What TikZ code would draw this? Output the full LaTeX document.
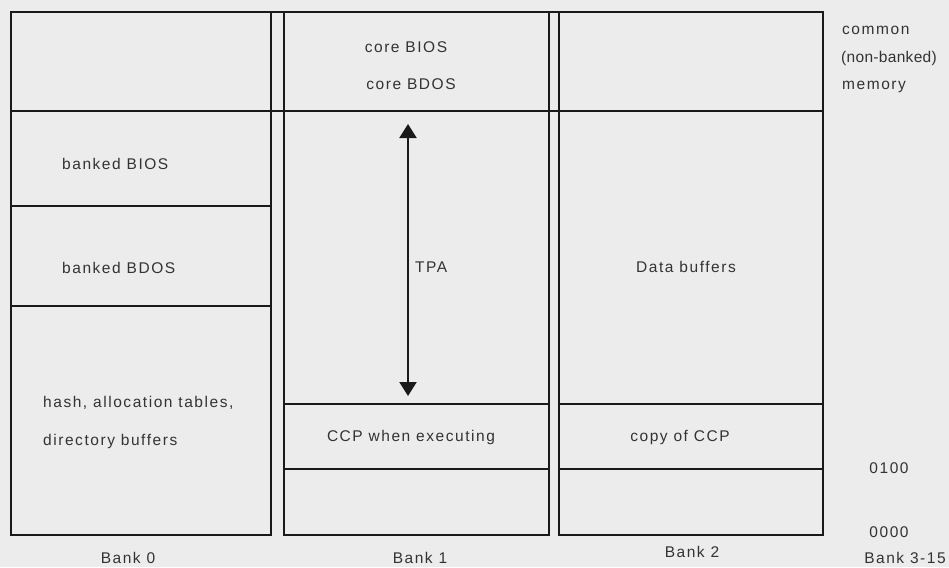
\documentclass[tikz,border=0pt]{standalone}
\usepackage{fontspec}
\setmainfont{Liberation Sans}[LetterSpace=10]
\usetikzlibrary{arrows.meta}
\definecolor{paper}{HTML}{ECECEC}
\definecolor{ink}{HTML}{1A1A1A}
\definecolor{txt}{HTML}{333333}
\tikzset{
  box/.style={draw=ink, line width=2.4pt},
  lbl/.style={text=txt, font=\fontsize{15.5}{18}\selectfont, inner sep=0pt},
  tpaarrow/.style={draw=ink, line width=2.2pt, {Triangle[width=17pt,length=14pt]}-{Triangle[width=17pt,length=14pt]}},
}
\begin{document}
\begin{tikzpicture}[x=1pt,y=-1pt]
\fill[paper] (0,0) rectangle (949,567);
\useasboundingbox (0,0) rectangle (949,567);
% Bank 0
\draw[box] (11,12) rectangle (271,535);
\draw[box] (11,111) -- (271,111);
\draw[box] (11,206) -- (271,206);
\draw[box] (11,306) -- (271,306);
% Bank 1
\draw[box] (284,12) rectangle (549,535);
\draw[box] (284,111) -- (549,111);
\draw[box] (284,404) -- (549,404);
\draw[box] (284,469) -- (549,469);
% Bank 2
\draw[box] (559,12) rectangle (823,535);
\draw[box] (559,111) -- (823,111);
\draw[box] (559,404) -- (823,404);
\draw[box] (559,469) -- (823,469);
% gaps in common row
\draw[box] (271,111) -- (284,111);
\draw[box] (549,111) -- (559,111);
\draw[box] (271,12) -- (284,12);
\draw[box] (549,12) -- (559,12);

% texts
\node[lbl] (cbios) at (406,47) {core BIOS};
\node[lbl] (cbdos) at (411,84) {core BDOS};
\node[lbl,anchor=west] (bbios) at (62,164) {banked BIOS};
\node[lbl,anchor=west] (bbdos) at (62,268) {banked BDOS};
\node[lbl,anchor=west] (hash) at (43,403) {hash, allocation tables,};
\node[lbl,anchor=west] (dirb) at (43,441) {directory buffers};
\node[lbl,anchor=west] (tpa) at (415,267) {TPA};
\node[lbl] (data) at (686,267) {Data buffers};
\node[lbl] (ccpx) at (411,437) {CCP when executing};
\node[lbl] (ccpc) at (680,437) {copy of CCP};
\node[lbl,anchor=west] (com1) at (842,30) {common};
\node[lbl,anchor=west] (com2) at (841,58) {\addfontfeatures{LetterSpace=2}(non-banked)};
\node[lbl,anchor=west] (com3) at (842,87) {memory};
\node[lbl] (a100) at (889,468) {0100};
\node[lbl] (a000) at (889,532) {0000};
\node[lbl] (b0) at (128,558) {Bank 0};
\node[lbl] (b1) at (420,558) {Bank 1};
\node[lbl] (b2) at (692,552) {Bank 2};
\node[lbl] (b3) at (905,558) {Bank 3-15};

% TPA arrow
\coordinate (tpatop) at (408,124);
\coordinate (tpabot) at (408,396);
\draw[tpaarrow] (tpabot) -- (tpatop);
\end{tikzpicture}
\end{document}
